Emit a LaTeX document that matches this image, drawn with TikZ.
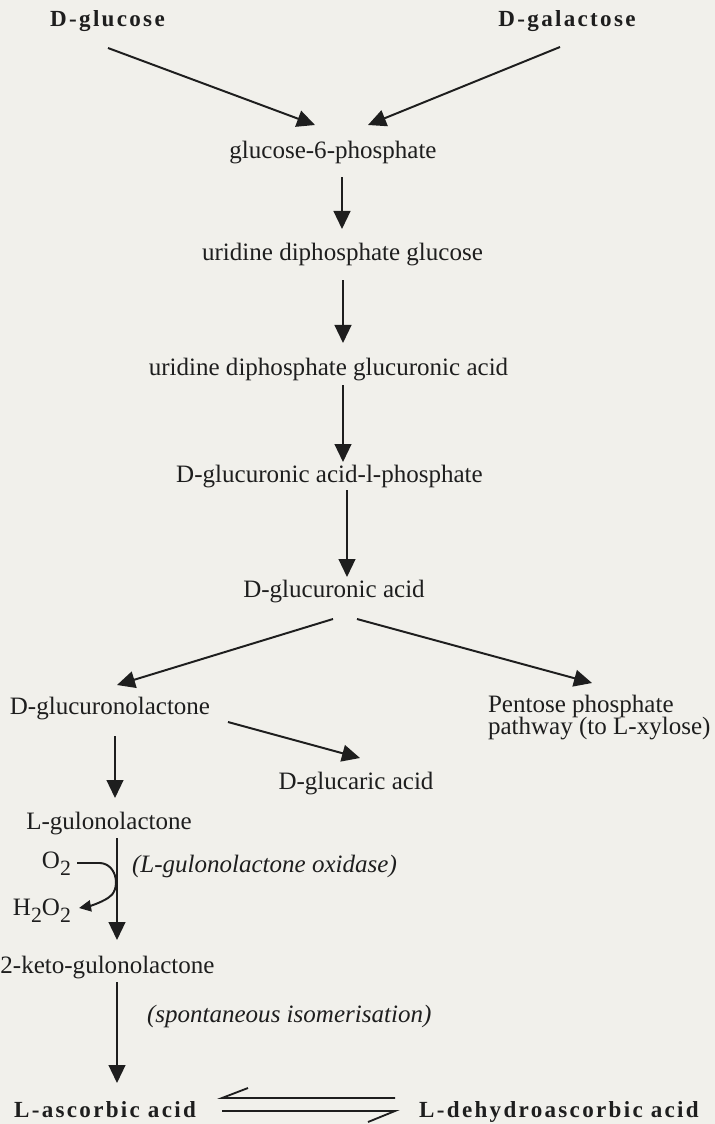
\documentclass[tikz,border=0pt]{standalone}
\usepackage{fontspec}
\setmainfont{Liberation Serif}
\newfontfamily\spacedbold[LetterSpace=10]{Liberation Serif}
\usetikzlibrary{arrows.meta,calc}
\definecolor{paper}{RGB}{241,240,235}
\definecolor{ink}{RGB}{30,30,30}
\newcommand\chemsub[1]{\raisebox{-0.3em}{\fontsize{15.5pt}{16pt}\selectfont #1}}
\begin{document}
\begin{tikzpicture}[x=0.025cm,y=-0.025cm,
  txt/.style={inner sep=0pt,outer sep=0pt,text=ink,font=\fontsize{17.8pt}{21pt}\selectfont},
  itxt/.style={txt,font=\fontsize{17.8pt}{21pt}\selectfont\itshape},
  bnode/.style={inner sep=0pt,outer sep=0pt,text=ink,font=\spacedbold\bfseries\fontsize{16.4pt}{20pt}\selectfont},
  arr/.style={draw=ink,line width=1.4pt,-{Triangle[length=0.45cm,width=0.42cm]}},
  smallarr/.style={draw=ink,line width=1.4pt,-{Triangle[length=0.3cm,width=0.28cm]}},
  eqline/.style={draw=ink,line width=1.3pt}]
\path[fill=paper] (0,0) rectangle (715,1124);
% nodes
\node[bnode,anchor=base] (glc) at (107.5,26) {D-glucose};
\node[bnode,anchor=base] (gal) at (567,26) {D-galactose};
\node[txt,anchor=base] (g6p) at (333,158) {glucose-6-phosphate};
\node[txt,anchor=base] (udpg) at (342.5,260) {uridine diphosphate glucose};
\node[txt,anchor=base] (udpga) at (328.5,375) {uridine diphosphate glucuronic acid};
\node[txt,anchor=base] (gap) at (329.5,482) {D-glucuronic acid-l-phosphate};
\node[txt,anchor=base] (ga) at (334,597) {D-glucuronic acid};
\node[txt,anchor=base] (glo) at (110,714) {D-glucuronolactone};
\node[txt,anchor=base west] (ppp) at (488,712) {\vtop{\baselineskip=16.2pt\lineskiplimit=-20pt\hbox{Pentose phosphate}\hbox{pathway (to L-xylose)}}};
\node[txt,anchor=base] (gca) at (356,789) {D-glucaric acid};
\node[txt,anchor=base] (lgl) at (109,829) {L-gulonolactone};
\node[txt,anchor=base west] (o2) at (42,868) {O\chemsub{2}};
\node[txt,anchor=base west] (h2o2) at (13,915) {H\chemsub{2}O\chemsub{2}};
\node[itxt,anchor=base west] (enz1) at (132,872) {(L-gulonolactone oxidase)};
\node[txt,anchor=base] (kgl) at (107.5,973) {2-keto-gulonolactone};
\node[itxt,anchor=base west] (enz2) at (147,1022) {(spontaneous isomerisation)};
\node[bnode,anchor=base] (asc) at (105,1117) {L-ascorbic acid};
\node[bnode,anchor=base] (dha) at (559,1117) {L-dehydroascorbic acid};
% connectors
\draw[arr] ($(glc.base)+(0.5,22)$) -- ($(g6p.base)+(-18,-33)$);
\draw[arr] ($(gal.base)+(-7,21)$) -- ($(g6p.base)+(35,-33)$);
\draw[arr] ($(g6p.base)+(9,19)$) -- ($(udpg.base)+(-0.5,-31)$);
\draw[arr] ($(udpg.base)+(0.5,20)$) -- ($(udpga.base)+(14.5,-32)$);
\draw[arr] ($(udpga.base)+(14.5,10)$) -- ($(gap.base)+(13.5,-20)$);
\draw[arr] ($(gap.base)+(17.5,8)$) -- ($(ga.base)+(13,-20)$);
\draw[arr] ($(ga.base)+(-1,22)$) -- ($(glo.base)+(7,-29)$);
\draw[arr] ($(ga.base)+(23,22)$) -- ($(ppp.base west)+(104,-29)$);
\draw[arr] ($(glo.base)+(5,22)$) -- ($(lgl.base)+(6,-31)$);
\draw[arr] ($(glo.base)+(118,8)$) -- ($(gca.base)+(4,-31)$);
\draw[arr] ($(lgl.base)+(8,9)$) -- ($(kgl.base)+(9.5,-33)$);
\draw[arr] ($(kgl.base)+(9.5,9)$) -- ($(asc.base)+(12,-34)$);
% oxygen side reaction
\draw[smallarr] ($(o2.base west)+(35,-5)$) -- (100,863) .. controls (118,864) and (121,891) .. (108,898) .. controls (100,903) and (90,906) .. ($(h2o2.base west)+(66,-7)$);
% equilibrium harpoons
\draw[eqline] ($(asc.base)+(143,-29)$) -- ($(asc.base)+(117,-19)$) -- ($(dha.base)+(-164,-19)$);
\draw[eqline] ($(asc.base)+(117,-6)$) -- ($(dha.base)+(-164,-6)$) -- ($(dha.base)+(-191,5)$);
\end{tikzpicture}
\end{document}
